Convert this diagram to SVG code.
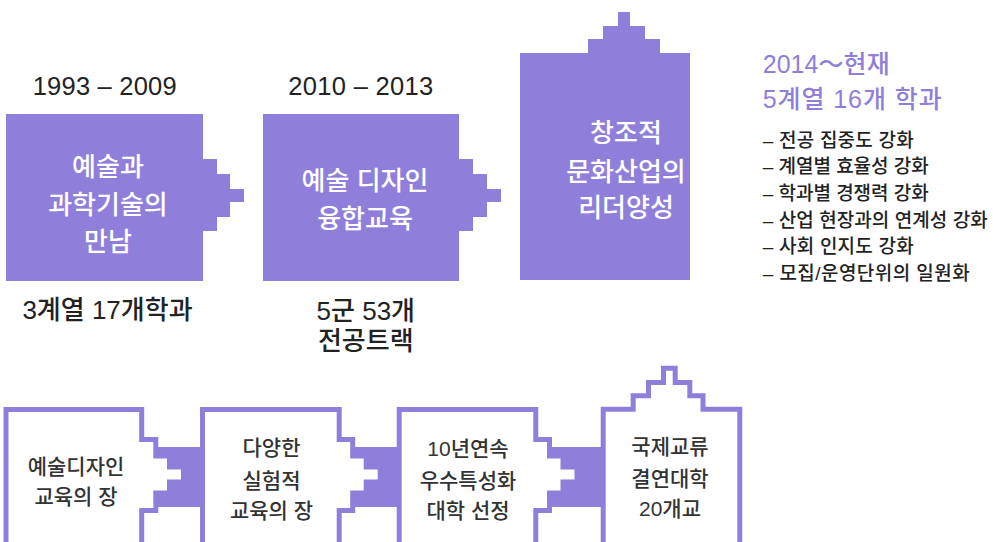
<svg xmlns="http://www.w3.org/2000/svg" width="994" height="542" viewBox="0 0 994 542">
<style>
text{font-family:"Liberation Sans","Noto Sans CJK KR",sans-serif;}
.solid{fill:#8f7fdb;stroke:none;}
.outline{fill:#ffffff;stroke:#8f7fdb;stroke-width:5;}
.band{fill:#8f7fdb;}
.wt{fill:#ffffff;font-size:26px;font-weight:500;text-anchor:middle;}
.dk{fill:#333333;font-size:21px;font-weight:500;text-anchor:middle;}
.yr{fill:#222222;font-size:25.5px;text-anchor:middle;}
.cap{fill:#222222;font-size:26px;font-weight:500;text-anchor:middle;}
.hd{fill:#8f7fdb;font-size:25px;font-weight:500;}
.li{fill:#222222;font-size:19px;font-weight:500;}
</style>
<g id="connectors">
<rect class="band" x="150" y="447" width="53" height="60"/>
<rect class="band" x="347" y="447" width="54" height="60"/>
<rect class="band" x="544" y="447" width="60" height="60"/>
</g>
<g id="period1">
<text class="yr" x="104.7" y="95" textLength="144">1993 – 2009</text>
<path class="solid" d="M6,114 H203 V159 H217 V174 H230 V189 H244 V202 H230 V217 H217 V231 H203 V281 H6 Z"/>
<text class="wt" x="108" y="176">예술과</text>
<text class="wt" x="108" y="214">과학기술의</text>
<text class="wt" x="108" y="250.5">만남</text>
<text class="cap" x="107.5" y="318.5">3계열 17개학과</text>
</g>
<g id="period2">
<text class="yr" x="360.8" y="95" textLength="145">2010 – 2013</text>
<path class="solid" d="M263,114 H459 V159 H473 V174 H487 V189 H501 V202 H487 V217 H473 V231 H459 V281 H263 Z"/>
<text class="wt" x="365" y="189.5">예술 디자인</text>
<text class="wt" x="365" y="227.5">융합교육</text>
<text class="cap" x="365.8" y="319.5">5군 53개</text>
<text class="cap" x="365.8" y="349.5">전공트랙</text>
</g>
<g id="period3">
<path class="solid" d="M520,53 H588 V39 H603 V26 H618 V12 H630 V26 H645 V39 H660 V53 H690 V280 H520 Z"/>
<text class="wt" x="626" y="142">창조적</text>
<text class="wt" x="626" y="180.5">문화산업의</text>
<text class="wt" x="626" y="217">리더양성</text>
</g>
<g id="current">
<text class="hd" x="762.7" y="73" textLength="127">2014～현재</text>
<text class="hd" x="762.7" y="108" textLength="179">5계열 16개 학과</text>
<text class="li" x="762.7" y="146.5" textLength="151">– 전공 집중도 강화</text>
<text class="li" x="762.7" y="173.2" textLength="166">– 계열별 효율성 강화</text>
<text class="li" x="762.7" y="199.8" textLength="166">– 학과별 경쟁력 강화</text>
<text class="li" x="762.7" y="226.5" textLength="225">– 산업 현장과의 연계성 강화</text>
<text class="li" x="762.7" y="253.1" textLength="151">– 사회 인지도 강화</text>
<text class="li" x="762.7" y="279.8" textLength="207">– 모집/운영단위의 일원화</text>
</g>
<g id="stageA">
<path class="outline" d="M6,552 V409.5 H141.7 V439.5 H155.8 V456 H169.5 V467 H183.5 V482 H169.5 V493 H155.8 V510.5 H141.7 V552"/>
<text class="dk" x="76" y="474">예술디자인</text>
<text class="dk" x="76" y="503.5">교육의 장</text>
</g>
<g id="stageB">
<path class="outline" d="M202.5,552 V409.5 H339.2 V439.5 H352.7 V456 H366.2 V467 H380.2 V482 H366.2 V493 H352.7 V510.5 H339.2 V552"/>
<text class="dk" x="271.5" y="455">다양한</text>
<text class="dk" x="271.5" y="487.5">실험적</text>
<text class="dk" x="271.5" y="517.5">교육의 장</text>
</g>
<g id="stageC">
<path class="outline" d="M399.2,552 V409.5 H535.8 V439.5 H549.5 V456 H563 V467 H577 V482 H563 V493 H549.5 V510.5 H535.8 V552"/>
<text class="dk" x="468" y="455.5">10년연속</text>
<text class="dk" x="468" y="487.5">우수특성화</text>
<text class="dk" x="468" y="517.5">대학 선정</text>
</g>
<g id="stageD">
<path class="outline" d="M603.2,552 V409.2 H633.2 V395.8 H648.5 V382.5 H663.5 V368.2 H675.2 V382.5 H689.8 V395.8 H703 V409.2 H739.8 V552"/>
<text class="dk" x="670" y="454">국제교류</text>
<text class="dk" x="670" y="485.5">결연대학</text>
<text class="dk" x="670" y="515.5">20개교</text>
</g>
</svg>
